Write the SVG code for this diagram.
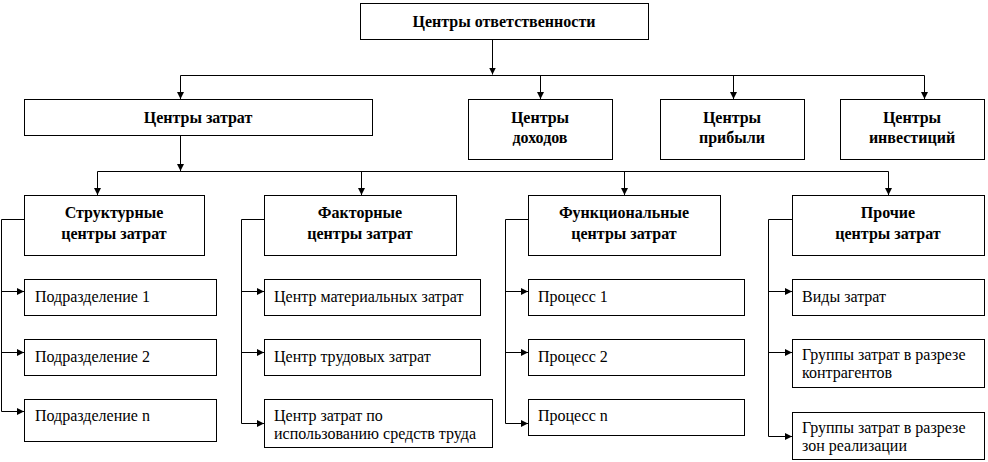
<svg xmlns="http://www.w3.org/2000/svg" width="988" height="462" viewBox="0 0 988 462">
<style>
rect{fill:#fff;stroke:#000;stroke-width:1}
.c{fill:none;stroke:#000;stroke-width:1}
text{font-family:"Liberation Serif","Times New Roman",serif;fill:#000}
.b{font-size:16px;font-weight:bold;text-anchor:middle}
.r{font-size:16px}
</style>
<defs>
<marker id="a" markerUnits="userSpaceOnUse" markerWidth="7" markerHeight="7" refX="7" refY="3.5" orient="auto">
<path d="M0,0 L7,3.5 L0,7 z" fill="#000"/>
</marker>
</defs>
<rect fill="#fff" x="0" y="0" width="988" height="462" style="stroke:none"/>
<g id="connectors">
<path class="c" d="M492.5,39 V74.5" marker-end="url(#a)"/>
<path class="c" d="M180.5,75.5 H924.5"/>
<path class="c" d="M180.5,75.5 V99" marker-end="url(#a)"/>
<path class="c" d="M540.5,75.5 V99" marker-end="url(#a)"/>
<path class="c" d="M733.5,75.5 V99" marker-end="url(#a)"/>
<path class="c" d="M924.5,75.5 V99" marker-end="url(#a)"/>
<path class="c" d="M180.5,135 V171" marker-end="url(#a)"/>
<path class="c" d="M97.5,171.5 H888.5"/>
<path class="c" d="M97.5,171.5 V195" marker-end="url(#a)"/>
<path class="c" d="M361.5,171.5 V195" marker-end="url(#a)"/>
<path class="c" d="M624.5,171.5 V195" marker-end="url(#a)"/>
<path class="c" d="M888.5,171.5 V195" marker-end="url(#a)"/>
<path class="c" d="M24,219.5 H1.5 V411.5"/>
<path class="c" d="M1.5,291.5 H24" marker-end="url(#a)"/>
<path class="c" d="M1.5,352.5 H24" marker-end="url(#a)"/>
<path class="c" d="M1.5,411.5 H24" marker-end="url(#a)"/>
<path class="c" d="M264,219.5 H241.5 V423.5"/>
<path class="c" d="M241.5,291.5 H264" marker-end="url(#a)"/>
<path class="c" d="M241.5,352.5 H264" marker-end="url(#a)"/>
<path class="c" d="M241.5,423.5 H264" marker-end="url(#a)"/>
<path class="c" d="M528,219.5 H505.5 V423.5"/>
<path class="c" d="M505.5,291.5 H528" marker-end="url(#a)"/>
<path class="c" d="M505.5,352.5 H528" marker-end="url(#a)"/>
<path class="c" d="M505.5,423.5 H528" marker-end="url(#a)"/>
<path class="c" d="M792,219.5 H768.5 V436.5"/>
<path class="c" d="M768.5,291.5 H792" marker-end="url(#a)"/>
<path class="c" d="M768.5,352.5 H792" marker-end="url(#a)"/>
<path class="c" d="M768.5,436.5 H792" marker-end="url(#a)"/>
</g>
<g id="root"><rect x="360.5" y="3.5" width="288" height="36"/><text class="b" x="504" y="27">Центры ответственности</text></g>
<g id="costs"><rect x="24.5" y="99.5" width="348" height="36"/><text class="b" x="198" y="123">Центры затрат</text></g>
<g id="income"><rect x="468.5" y="99.5" width="144" height="60"/><text class="b" x="540" y="123">Центры</text><text class="b" x="540" y="143">доходов</text></g>
<g id="profit"><rect x="660.5" y="99.5" width="144" height="60"/><text class="b" x="732" y="123">Центры</text><text class="b" x="732" y="143">прибыли</text></g>
<g id="invest"><rect x="840.5" y="99.5" width="144" height="60"/><text class="b" x="912" y="123">Центры</text><text class="b" x="912" y="143">инвестиций</text></g>
<g id="struct"><rect x="24.5" y="195.5" width="180" height="60"/><text class="b" x="114" y="218">Структурные</text><text class="b" x="114" y="239">центры затрат</text></g>
<g id="factor"><rect x="264.5" y="195.5" width="192" height="60"/><text class="b" x="360" y="218">Факторные</text><text class="b" x="360" y="239">центры затрат</text></g>
<g id="func"><rect x="528.5" y="195.5" width="192" height="60"/><text class="b" x="624" y="218">Функциональные</text><text class="b" x="624" y="239">центры затрат</text></g>
<g id="other"><rect x="792.5" y="195.5" width="192" height="60"/><text class="b" x="888" y="218">Прочие</text><text class="b" x="888" y="239">центры затрат</text></g>
<g id="s1"><rect x="24.5" y="279.5" width="192" height="36"/><text class="r" x="35" y="302">Подразделение 1</text></g>
<g id="s2"><rect x="24.5" y="339.5" width="192" height="36"/><text class="r" x="35" y="362">Подразделение 2</text></g>
<g id="s3"><rect x="24.5" y="399.5" width="192" height="42"/><text class="r" x="35" y="421">Подразделение n</text></g>
<g id="f1"><rect x="264.5" y="279.5" width="216" height="36"/><text class="r" x="274" y="302">Центр материальных затрат</text></g>
<g id="f2"><rect x="264.5" y="339.5" width="216" height="36"/><text class="r" x="274" y="362">Центр трудовых затрат</text></g>
<g id="f3"><rect x="264.5" y="399.5" width="228" height="48"/><text class="r" x="274" y="421">Центр затрат по</text><text class="r" x="274" y="439">использованию средств труда</text></g>
<g id="p1"><rect x="528.5" y="279.5" width="216" height="36"/><text class="r" x="538" y="302">Процесс 1</text></g>
<g id="p2"><rect x="528.5" y="339.5" width="216" height="36"/><text class="r" x="538" y="362">Процесс 2</text></g>
<g id="p3"><rect x="528.5" y="399.5" width="216" height="36"/><text class="r" x="538" y="421">Процесс n</text></g>
<g id="o1"><rect x="792.5" y="279.5" width="192" height="36"/><text class="r" x="802" y="302">Виды затрат</text></g>
<g id="o2"><rect x="792.5" y="339.5" width="192" height="48"/><text class="r" x="802" y="360">Группы затрат в разрезе</text><text class="r" x="802" y="378">контрагентов</text></g>
<g id="o3"><rect x="792.5" y="412.5" width="192" height="47"/><text class="r" x="802" y="433">Группы затрат в разрезе</text><text class="r" x="802" y="451">зон реализации</text></g>
</svg>
